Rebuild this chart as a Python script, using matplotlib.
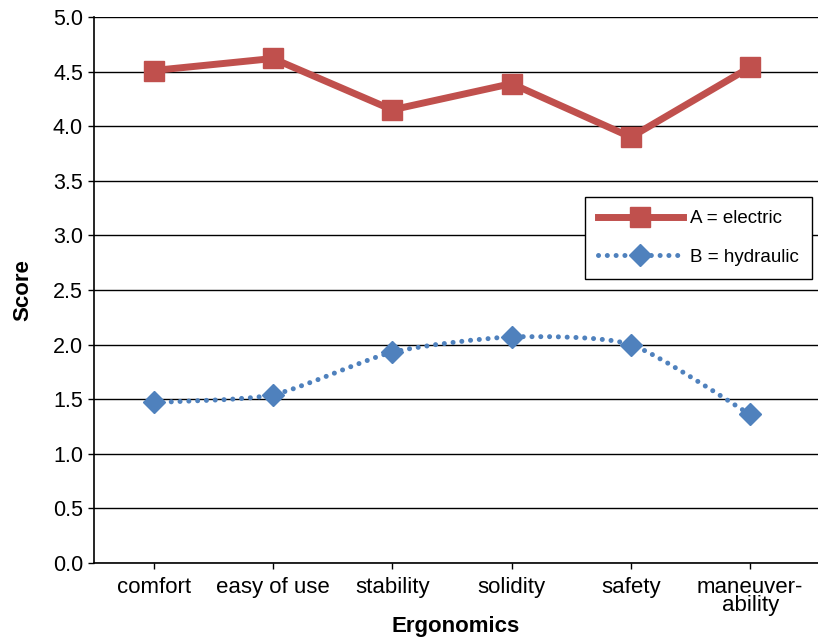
import matplotlib
matplotlib.use('Agg')
import matplotlib.pyplot as plt
from matplotlib.path import Path
from matplotlib.patches import PathPatch
from matplotlib.lines import Line2D
import numpy as np

# Дані з графіка
categories = ['comfort', 'easy of use', 'stability', 'solidity', 'safety', 'maneuver-\nability']
electric = [4.51, 4.62, 4.15, 4.39, 3.90, 4.54]
hydraulic = [1.47, 1.54, 1.93, 2.07, 2.00, 1.36]

RED = '#C0504D'
BLUE = '#4F81BD'

plt.rcParams['font.family'] = ['Liberation Sans', 'DejaVu Sans']

fig = plt.figure(figsize=(8.18, 6.43), dpi=100)
ax = fig.add_axes([94 / 818, 80 / 643, 724 / 818, 546 / 643])

x = np.arange(len(categories))

# Лінія A (ламана)
ax.plot(x, electric, color=RED, lw=5, marker='s', ms=14,
        solid_joinstyle='miter', zorder=4)

# Лінія B (згладжена крива Безьє, як у Excel)
pts = np.column_stack([x, hydraulic]).astype(float)
verts = [pts[0]]
codes = [Path.MOVETO]
n = len(pts)
k = 1 / 9
for i in range(n - 1):
    p_prev = pts[i - 1] if i > 0 else pts[i]
    p_next2 = pts[i + 2] if i + 2 < n else pts[i + 1]
    c1 = pts[i] + (pts[i + 1] - p_prev) * k
    c2 = pts[i + 1] - (p_next2 - pts[i]) * k
    verts += [c1, c2, pts[i + 1]]
    codes += [Path.CURVE4] * 3
patch = PathPatch(Path(verts, codes), fill=False, edgecolor=BLUE, lw=3.6,
                  linestyle=(0, (0.01, 1.75)), capstyle='round', zorder=3)
ax.add_patch(patch)
ax.plot(x, hydraulic, ls='none', marker='D', ms=11, color=BLUE, zorder=4)

# Осі
ax.set_ylim(0, 5)
ax.set_xlim(-0.5, (818 - 94) / 119.3 - 0.5)
ax.set_yticks(np.arange(0, 5.01, 0.5))
ax.set_yticklabels([f'{v:.1f}' for v in np.arange(0, 5.01, 0.5)])
ax.set_xticks(x)
ax.set_xticklabels(categories, linespacing=0.85)
ax.tick_params(axis='both', colors='black', direction='out', length=4, width=1)
ax.tick_params(axis='x', labelsize=16, pad=6)
ax.tick_params(axis='y', labelsize=15.5, pad=4)
ax.yaxis.grid(True, color='black', lw=1)
ax.set_axisbelow(True)
for s in ['top', 'right']:
    ax.spines[s].set_visible(False)
for s in ['left', 'bottom']:
    ax.spines[s].set_linewidth(1.2)

ax.set_ylabel('Score', fontsize=16, fontweight='bold', labelpad=14)
ax.set_xlabel('Ergonomics', fontsize=16, fontweight='bold', labelpad=0)

# Легенда
handles = [
    Line2D([], [], color=RED, lw=5, marker='s', ms=14),
    Line2D([], [], color=BLUE, lw=3.6, ls=(0, (0.01, 1.75)), dash_capstyle='round',
           marker='D', ms=11),
]
leg = ax.legend(handles, ['A = electric', 'B = hydraulic'], loc='upper right',
                bbox_to_anchor=((812 - 94) / 724, (563 - 197) / 546),
                borderaxespad=0, fontsize=13.5, handlelength=4.5, handletextpad=0.4,
                borderpad=0.7, labelspacing=1.15, fancybox=False,
                edgecolor='black', framealpha=1)
leg.get_frame().set_linewidth(1)

plt.savefig('out.png', dpi=100)
plt.close()
